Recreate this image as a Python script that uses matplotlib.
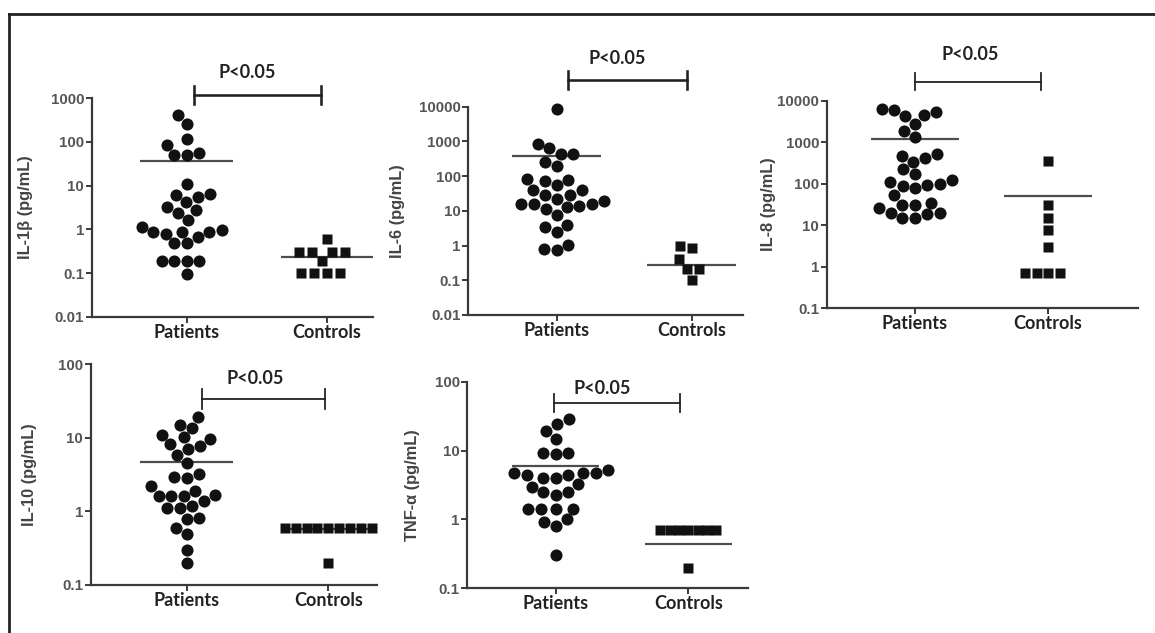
import numpy as np
import matplotlib
matplotlib.use("Agg")
import matplotlib.pyplot as plt
from matplotlib.lines import Line2D
from matplotlib.ticker import NullLocator

# ---------------- data ----------------
categories = ["Patients", "Controls"]

il1b_patients = [415, 260, 117, 86, 50, 50, 55, 10.7, 6.6, 5.6, 6.1, 4.2, 3.3, 2.7, 2.4,
                 1.6, 0.85, 0.78, 0.95, 1.15, 0.89, 0.85, 0.66, 0.48, 0.48,
                 0.19, 0.19, 0.19, 0.19, 0.094]
il1b_controls = [0.3, 0.3, 0.3, 0.3, 0.19, 0.59, 0.1, 0.1, 0.1, 0.1]
il1b_means = [37, 0.23]

il6_patients = [8400, 830, 630, 440, 440, 260, 200, 84, 78, 71, 56, 41, 41, 29, 28, 22,
                19, 16, 16, 16, 13.5, 13, 11.5, 7.8, 4.0, 3.5, 2.4, 1.07, 0.81, 0.74]
il6_controls = [0.96, 0.85, 0.40, 0.21, 0.21, 0.10]
il6_means = [380, 0.28]

il8_patients = [6300, 6000, 5400, 4500, 4300, 2750, 1900, 1360, 520, 465, 410, 340, 220,
                170, 123, 107, 98, 94, 89, 78, 52, 35, 31, 31, 26, 20, 19.5, 18, 15, 15]
il8_controls = [360, 31, 15, 7.8, 2.9, 0.68, 0.68, 0.68, 0.68]
il8_means = [1200, 50]

il10_patients = [19.3, 14.8, 13.7, 10.9, 10.2, 9.5, 8.1, 7.6, 7.0, 5.8, 4.6, 3.2, 2.9, 2.8,
                 2.2, 1.9, 1.66, 1.6, 1.6, 1.6, 1.38, 1.19, 1.1, 1.1, 0.80, 0.79, 0.60,
                 0.50, 0.30, 0.20]
il10_controls = [0.6, 0.6, 0.6, 0.6, 0.6, 0.6, 0.6, 0.6, 0.6, 0.2]
il10_means = [4.7, 0.57]

tnf_patients = [29, 24, 19.5, 14.7, 9.1, 9.1, 8.9, 5.2, 4.8, 4.8, 4.8, 4.4, 4.4, 4.0, 4.0,
                3.3, 3.0, 2.5, 2.5, 2.3, 1.44, 1.44, 1.4, 1.4, 1.0, 0.93, 0.81, 0.30]
tnf_controls = [0.7, 0.7, 0.7, 0.7, 0.7, 0.7, 0.7, 0.2]
tnf_means = [6.0, 0.44]

ylabels = ["IL-1β (pg/mL)", "IL-6 (pg/mL)", "IL-8 (pg/mL)", "IL-10 (pg/mL)", "TNF-α (pg/mL)"]
yticks_1 = [0.01, 0.1, 1, 10, 100, 1000]
yticks_2 = [0.01, 0.1, 1, 10, 100, 1000, 10000]
yticks_3 = [0.1, 1, 10, 100, 1000, 10000]
yticks_4 = [0.1, 1, 10, 100]
yticks_5 = [0.1, 1, 10, 100]
ytick_labels_1 = ["0.01", "0.1", "1", "10", "100", "1000"]
ytick_labels_2 = ["0.01", "0.1", "1", "10", "100", "1000", "10000"]
ytick_labels_3 = ["0.1", "1", "10", "100", "1000", "10000"]
ytick_labels_4 = ["0.1", "1", "10", "100"]
ytick_labels_5 = ["0.1", "1", "10", "100"]
sig_text = "P<0.05"

# ---------------- layout / style ----------------
W, H = 1155, 633
fig = plt.figure(figsize=(W / 100, H / 100), dpi=100)

def fx(x):
    return x / W

def fy(y):
    return 1 - y / H

DARK = "#222222"
AXC = "#3a3a3a"
TICKC = "#555555"
MEANC = "#4d4d4d"
PTC = "#111111"

panels = [
    dict(pat=il1b_patients, ctl=il1b_controls, means=il1b_means, ylab=ylabels[0],
         yt=yticks_1, ytl=ytick_labels_1, box=(91.7, 98.3, 373, 316.7), cat=(186.7, 326.7),
         labx=33, br=(95, 194, 320.7, 9, 73, 246.7, 2.6), cpitch=13.0),
    dict(pat=il6_patients, ctl=il6_controls, means=il6_means, ylab=ylabels[1],
         yt=yticks_2, ytl=ytick_labels_2, box=(468.3, 106.7, 743, 315), cat=(556.7, 691.7),
         labx=405, br=(80, 568, 686.7, 8.7, 58, 616.7, 2.6), cpitch=12.3),
    dict(pat=il8_patients, ctl=il8_controls, means=il8_means, ylab=ylabels[2],
         yt=yticks_3, ytl=ytick_labels_3, box=(826.7, 100.7, 1138, 308), cat=(915, 1048),
         labx=776, br=(81.7, 915, 1040.7, 8.7, 55, 970, 1.8), cpitch=11.5),
    dict(pat=il10_patients, ctl=il10_controls, means=il10_means, ylab=ylabels[3],
         yt=yticks_4, ytl=ytick_labels_4, box=(90.7, 364, 377, 585), cat=(186.7, 328.3),
         labx=37, br=(399.3, 201.7, 325, 10, 379, 255, 1.8), cpitch=10.9),
    dict(pat=tnf_patients, ctl=tnf_controls, means=tnf_means, ylab=ylabels[4],
         yt=yticks_5, ytl=ytick_labels_5, box=(467.3, 381.7, 748, 588.3), cat=(555.7, 688.3),
         labx=420, br=(403.3, 554.3, 680, 9, 388, 601.7, 1.8), cpitch=9.3),
]


def swarm(ypix, d):
    """Offsets (pixels) so that no two points are closer than d."""
    ypix = np.asarray(ypix, float)
    order = np.argsort(ypix)
    xs = np.zeros(len(ypix))
    placed = []
    for i in order:
        y = ypix[i]
        cands = [0.0]
        for j in placed:
            dy = y - ypix[j]
            if abs(dy) < d:
                dx = np.sqrt(d * d - dy * dy)
                cands += [xs[j] - dx, xs[j] + dx]
        cands = sorted(cands, key=lambda c: (abs(c), c))
        for c in cands:
            ok = True
            for j in placed:
                if (c - xs[j]) ** 2 + (y - ypix[j]) ** 2 < d * d - 1e-6:
                    ok = False
                    break
            if ok:
                xs[i] = c
                break
        placed.append(i)
    return xs


tick_font = ["Liberation Sans", "DejaVu Sans"]
cat_font = ["Lato", "DejaVu Sans"]

for p in panels:
    l, t, r, b = p["box"]
    ax = fig.add_axes([fx(l), fy(b), (r - l) / W, (b - t) / H])
    ppu = p["cat"][1] - p["cat"][0]
    ax.set_xlim((l - p["cat"][0]) / ppu, (r - p["cat"][0]) / ppu)
    ax.set_yscale("log")
    ax.set_ylim(p["yt"][0], p["yt"][-1])
    ax.set_yticks(p["yt"])
    ax.set_yticklabels(p["ytl"])
    ax.yaxis.set_minor_locator(NullLocator())
    ax.set_xticks([0, 1])
    ax.set_xticklabels(categories)
    for s in ["top", "right"]:
        ax.spines[s].set_visible(False)
    for s in ["left", "bottom"]:
        ax.spines[s].set_linewidth(1.6)
        ax.spines[s].set_color(AXC)
    ax.tick_params(axis="y", length=4, width=1.4, color=AXC, labelsize=10.8,
                   labelcolor=TICKC, pad=1.5)
    ax.tick_params(axis="x", length=4, width=1.4, color=AXC, labelsize=13,
                   labelcolor=DARK, pad=1)
    for lab in ax.get_yticklabels():
        lab.set_fontweight("bold")
        lab.set_family(tick_font)
    for lab in ax.get_xticklabels():
        lab.set_fontweight("bold")
        lab.set_family(cat_font)
    ax.set_ylabel(p["ylab"], fontsize=11.8, fontweight="bold", color="#444444",
                  family=tick_font)
    ax.yaxis.set_label_coords((p["labx"] - l) / (r - l), 0.5)
    ax.patch.set_visible(False)

    # mean lines
    half = 0.33
    for k in range(2):
        ax.hlines(p["means"][k], k - half, k + half, color=MEANC, lw=1.6, zorder=1)

    # points
    for k, (vals, mk, ms, pitch) in enumerate([(p["pat"], "o", 8.7, 12.6),
                                                (p["ctl"], "s", 7.2, p["cpitch"])]):
        vals = np.asarray(vals, float)
        ypix = ax.transData.transform(np.column_stack([np.zeros(len(vals)), vals]))[:, 1]
        offs = swarm(ypix, pitch) / ppu
        ax.plot(k + offs, vals, linestyle="none", marker=mk, ms=ms, color=PTC,
                mec="none", zorder=3, clip_on=False)

    # significance bracket
    by, x0, x1, hh, ty, tx, lw = p["br"]
    fig.add_artist(Line2D([fx(x0), fx(x1)], [fy(by), fy(by)], transform=fig.transFigure,
                          color=DARK, lw=lw * 0.72))
    for xx in (x0, x1):
        fig.add_artist(Line2D([fx(xx), fx(xx)], [fy(by - hh), fy(by + hh)],
                              transform=fig.transFigure, color=DARK, lw=lw * 0.72))
    fig.text(fx(tx), fy(ty), sig_text, ha="center", va="center", fontsize=13,
             fontweight="bold", color=DARK, family=cat_font)

# outer frame (top and left edges)
fig.add_artist(Line2D([fx(8.5), 1.0], [fy(14), fy(14)], transform=fig.transFigure,
                      color=DARK, lw=2.0))
fig.add_artist(Line2D([fx(8.5), fx(8.5)], [fy(14), 0.0], transform=fig.transFigure,
                      color=DARK, lw=2.0))

fig.savefig("out.png", dpi=100)
